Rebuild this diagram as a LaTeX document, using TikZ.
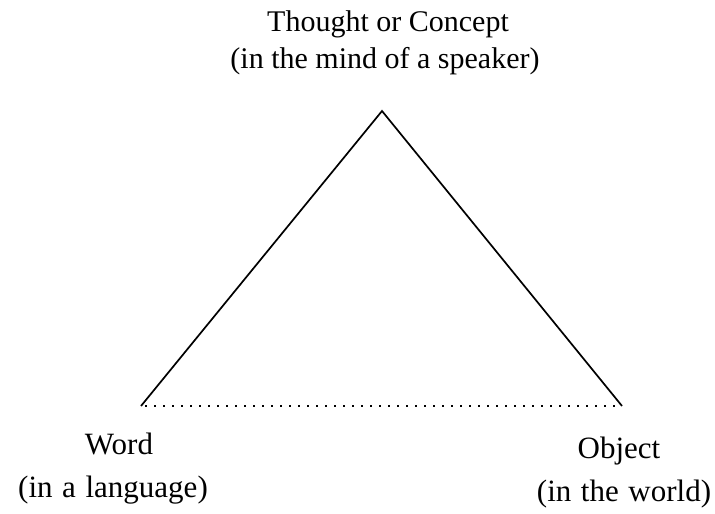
\documentclass[tikz,border=0pt]{standalone}
\usepackage{fontspec}
\setmainfont{Liberation Serif}
\newcommand\topfont{\fontsize{15}{18}\selectfont}
\newcommand\botfont{\fontsize{15.5}{18}\selectfont\spaceskip=4.8pt\relax}
\begin{document}
\begin{tikzpicture}[x=0.5pt,y=-0.5pt,
  lbl/.style={anchor=base,inner sep=0pt},
  toptext/.style={lbl,font=\topfont},
  bottext/.style={lbl,font=\botfont},
  side/.style={line width=0.85pt,line join=miter},
  base/.style={line width=0.9pt,dash pattern=on 0.9pt off 3.6pt}]
\useasboundingbox (0,0) rectangle (715,513);
\coordinate (apex) at (382,111);
\coordinate (wl) at (141,406);
\coordinate (ob) at (622,406);
\draw[side] (wl) -- (apex) -- (ob);
\draw[base] ([xshift=2]wl) -- ([xshift=-2]ob);
\node[toptext] (t1) at (388,32) {Thought or Concept};
\node[toptext] (t2) at (385,69) {(in the mind of a speaker)};
\node[bottext] (w1) at (119,454) {Word};
\node[bottext] (w2) at (113,497) {(in a language)};
\node[bottext] (o1) at (619,458) {Object};
\node[bottext] (o2) at (624,501) {(in the world)};
\end{tikzpicture}
\end{document}
